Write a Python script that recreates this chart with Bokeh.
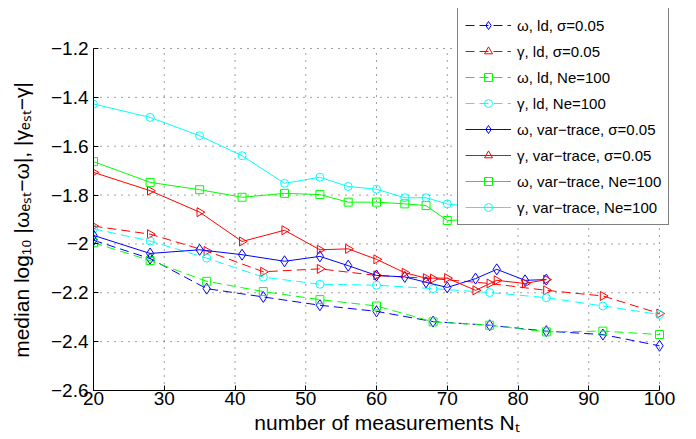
import numpy as np
from bokeh.plotting import figure
from bokeh.models import Range1d, FixedTicker, CustomJSTickFormatter, Legend, LegendItem
from bokeh.embed import file_html
from bokeh.resources import INLINE

# ---- data ----
x_ld = [20, 28, 36, 44, 52, 60, 68, 76, 84, 92, 100]
w_ld_sigma = [-1.985, -2.060, -2.183, -2.217, -2.251, -2.276, -2.318, -2.333, -2.357, -2.371, -2.417]
g_ld_sigma = [-1.927, -1.960, -2.029, -2.114, -2.102, -2.129, -2.142, -2.162, -2.190, -2.213, -2.285]
w_ld_ne = [-1.995, -2.068, -2.153, -2.195, -2.228, -2.254, -2.319, -2.333, -2.360, -2.357, -2.371]
g_ld_ne = [-1.938, -1.988, -2.058, -2.136, -2.165, -2.169, -2.183, -2.199, -2.220, -2.254, -2.289]

x_vt = [20, 28, 35, 41, 47, 52, 56, 60, 64, 67, 70, 74, 77, 81, 84]
w_vt_sigma = [-1.965, -2.039, -2.024, -2.044, -2.071, -2.051, -2.089, -2.129, -2.135, -2.157, -2.178, -2.142, -2.104, -2.149, -2.146]
g_vt_sigma = [-1.707, -1.782, -1.870, -1.990, -1.944, -2.024, -2.020, -2.063, -2.118, -2.140, -2.140, -2.190, -2.149, -2.162, -2.146]
w_vt_ne = [-1.663, -1.748, -1.778, -1.809, -1.793, -1.798, -1.829, -1.829, -1.836, -1.843, -1.904, -1.900, -1.900, -1.900, -1.900]
g_vt_ne = [-1.427, -1.482, -1.557, -1.639, -1.752, -1.727, -1.765, -1.776, -1.811, -1.811, -1.836, -1.850, -1.860, -1.870, -1.880]

labels = [
    "ω, ld, σ=0.05",
    "γ, ld, σ=0.05",
    "ω, ld, Ne=100",
    "γ, ld, Ne=100",
    "ω, var−trace, σ=0.05",
    "γ, var−trace, σ=0.05",
    "ω, var−trace, Ne=100",
    "γ, var−trace, Ne=100",
]
x_ticks = [20, 30, 40, 50, 60, 70, 80, 90, 100]
y_ticks = [-2.6, -2.4, -2.2, -2.0, -1.8, -1.6, -1.4, -1.2]

FONT = "Liberation Sans"

# axes span 20..100 and -2.6..-1.2; the frame is extended up/right so the
# legend (which sits partly outside the axes box) is not clipped
X_MIN, X_MAX_AX = 20, 100
Y_MIN, Y_MAX_AX = -2.6, -1.2
x_scale = (659 - 93) / (X_MAX_AX - X_MIN)
y_scale = (390 - 48) / (Y_MAX_AX - Y_MIN)
x_hi = X_MIN + (680 - 93) / x_scale
y_hi = Y_MIN + (390 - 8) / y_scale

p = figure(width=696, height=439, output_backend="svg", toolbar_location=None,
           x_range=Range1d(X_MIN, x_hi), y_range=Range1d(Y_MIN, y_hi),
           min_border_left=93, min_border_right=16, min_border_top=8, min_border_bottom=49)
p.outline_line_color = None
p.background_fill_color = "white"
p.border_fill_color = "white"
p.grid.visible = False

# dotted grid inside the axes box
gx = x_ticks[1:]
p.segment(x0=gx, x1=gx, y0=[Y_MIN] * len(gx), y1=[Y_MAX_AX] * len(gx),
          line_color="black", line_alpha=0.75, line_dash="1 6", line_width=1)
gy = y_ticks[1:]
p.segment(x0=[X_MIN] * len(gy), x1=[X_MAX_AX] * len(gy), y0=gy, y1=gy,
          line_color="black", line_alpha=0.75, line_dash="1 6", line_width=1)

series = [
    (x_ld, w_ld_sigma, "#0000ff", "diamond", "9 5"),
    (x_ld, g_ld_sigma, "#ff0000", "triangle", "9 5"),
    (x_ld, w_ld_ne, "#00ff00", "square", "9 5"),
    (x_ld, g_ld_ne, "#00ffff", "circle", "9 5"),
    (x_vt, w_vt_sigma, "#0000ff", "diamond", "solid"),
    (x_vt, g_vt_sigma, "#ff0000", "triangle", "solid"),
    (x_vt, w_vt_ne, "#00ff00", "square", "solid"),
    (x_vt, g_vt_ne, "#00ffff", "circle", "solid"),
]
sizes = {"diamond": 11, "triangle": 9, "square": 8, "circle": 8}

items = []
for (xs, ys, col, mk, dash), lab in zip(series, labels):
    r1 = p.line(xs, ys, line_color=col, line_width=1, line_dash=dash)
    ang = -np.pi / 2 if mk == "triangle" else 0.0
    r2 = p.scatter(xs, ys, marker=mk, size=sizes[mk], angle=ang,
                   line_color=col, fill_alpha=0, line_width=1)
    items.append(LegendItem(label=lab, renderers=[r1, r2]))

# axes
for ax in (p.xaxis[0], p.yaxis[0]):
    ax.axis_line_color = "black"
    ax.major_tick_in = 5
    ax.major_tick_out = 0
    ax.minor_tick_in = 0
    ax.minor_tick_out = 0
    ax.major_tick_line_color = "black"
    ax.major_label_text_font = FONT
    ax.major_label_text_font_size = "19px"
    ax.major_label_text_color = "black"
    ax.axis_label_text_font = FONT
    ax.axis_label_text_font_size = "21px"
    ax.axis_label_text_font_style = "normal"
    ax.axis_label_text_color = "black"

p.xaxis.bounds = (X_MIN, X_MAX_AX)
p.yaxis.bounds = (Y_MIN, Y_MAX_AX)
p.xaxis.ticker = FixedTicker(ticks=x_ticks)
p.yaxis.ticker = FixedTicker(ticks=y_ticks)
p.yaxis.formatter = CustomJSTickFormatter(
    code="const s = (Math.round(tick*10)/10).toString(); return s.replace('-', '\u2212');")
p.xaxis.major_label_standoff = 1
p.xaxis.axis_label_standoff = 3
p.yaxis.major_label_standoff = 5
p.yaxis.axis_label_standoff = 15
p.xaxis.axis_label = "number of measurements Nₜ"
# trailing no-break spaces centre the label on the axes box rather than the frame
p.yaxis.axis_label = "median log₁₀ |ωₑₛₜ−ω|, |γₑₛₜ−γ|" + "\u00a0" * 7

legend = Legend(items=items, location=(364, 165))
legend.label_text_font = FONT
legend.label_text_font_size = "15px"
legend.label_text_color = "black"
legend.glyph_width = 46
legend.glyph_height = 20
legend.label_height = 20
legend.label_standoff = 6
legend.spacing = 6
legend.padding = 7
legend.margin = 0
legend.border_line_color = "black"
legend.border_line_width = 1
legend.background_fill_color = "white"
legend.background_fill_alpha = 1.0
p.add_layout(legend, "center")

open("out.html", "w").write(file_html(p, INLINE))
